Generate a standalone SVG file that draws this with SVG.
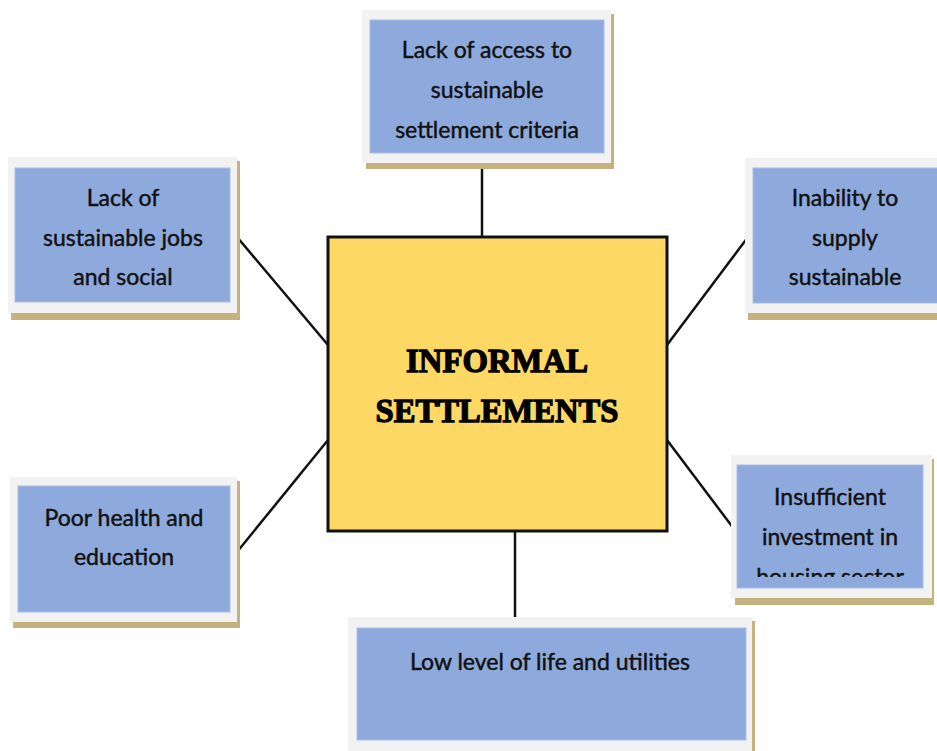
<svg xmlns="http://www.w3.org/2000/svg" width="937" height="751" viewBox="0 0 937 751">
<style>
.shadow{fill:#C6B27E}
.frame{fill:#F2F2F2}
.box{fill:#8EAADC;stroke:#A9BEE6;stroke-width:1}
.t{font-family:Lato,"Open Sans",sans-serif;font-size:23px;fill:#111;stroke:#111;stroke-width:0.45;text-anchor:middle}
.conn{stroke:#111;stroke-width:2.5;fill:none}
.title{font-family:"Liberation Serif",serif;font-weight:bold;font-size:34px;fill:#000;stroke:#000;stroke-width:1.3;text-anchor:middle}
</style>
<defs>
<clipPath id="clipIns"><rect x="736" y="465" width="188" height="112"/></clipPath>
</defs>
<rect width="937" height="751" fill="#fff"/>
<g id="connectors">
<line class="conn" x1="482" y1="163" x2="482" y2="237"/>
<line class="conn" x1="237" y1="237" x2="328" y2="345"/>
<line class="conn" x1="328" y1="440" x2="237" y2="552"/>
<line class="conn" x1="748" y1="237" x2="667" y2="345"/>
<line class="conn" x1="667" y1="440" x2="734" y2="529"/>
<line class="conn" x1="515" y1="532" x2="515" y2="622"/>
</g>
<g id="node-top">
<rect class="shadow" x="366" y="14" width="248" height="155"/>
<rect class="frame" x="362" y="10" width="249" height="153"/>
<rect class="box" x="370" y="20" width="234" height="133"/>
<text class="t" x="487" y="58">Lack of access to</text>
<text class="t" x="487" y="98">sustainable</text>
<text class="t" x="487" y="138">settlement criteria</text>
</g>
<g id="node-left-top">
<rect class="shadow" x="11" y="161" width="229" height="159"/>
<rect class="frame" x="8" y="157" width="229" height="156"/>
<rect class="box" x="15" y="168" width="215" height="134"/>
<text class="t" x="123" y="206">Lack of</text>
<text class="t" x="123" y="246">sustainable jobs</text>
<text class="t" x="123" y="285">and social</text>
</g>
<g id="node-right-top">
<rect class="shadow" x="748" y="161" width="189" height="159"/>
<rect class="frame" x="745" y="158" width="192" height="155"/>
<rect class="box" x="753" y="168" width="190" height="135"/>
<text class="t" x="845" y="206">Inability to</text>
<text class="t" x="845" y="246">supply</text>
<text class="t" x="845" y="285">sustainable</text>
</g>
<g id="node-left-bottom">
<rect class="shadow" x="13" y="481" width="227" height="147"/>
<rect class="frame" x="10" y="477" width="227" height="145"/>
<rect class="box" x="18" y="486" width="212" height="126"/>
<text class="t" x="124" y="526">Poor health and</text>
<text class="t" x="124" y="565">education</text>
</g>
<g id="node-right-bottom">
<rect class="shadow" x="735" y="459" width="199" height="146"/>
<rect class="frame" x="731" y="455" width="201" height="143"/>
<rect class="box" x="737" y="465" width="186" height="123"/>
<g clip-path="url(#clipIns)">
<text class="t" x="830" y="505">Insufficient</text>
<text class="t" x="830" y="545">investment in</text>
<text class="t" x="830" y="585">housing sector</text>
</g>
</g>
<g id="node-bottom">
<rect class="shadow" x="352" y="621" width="403" height="130"/>
<rect class="frame" x="348" y="617" width="404" height="134"/>
<rect class="box" x="357" y="628" width="389" height="112"/>
<text class="t" x="550" y="670">Low level of life and utilities</text>
</g>
<g id="node-center">
<rect x="328" y="237" width="339" height="294" fill="#FED864" stroke="#111" stroke-width="3"/>
<text class="title" x="497" y="372" textLength="182" lengthAdjust="spacingAndGlyphs">INFORMAL</text>
<text class="title" x="497" y="422" textLength="243" lengthAdjust="spacingAndGlyphs">SETTLEMENTS</text>
</g>
</svg>
